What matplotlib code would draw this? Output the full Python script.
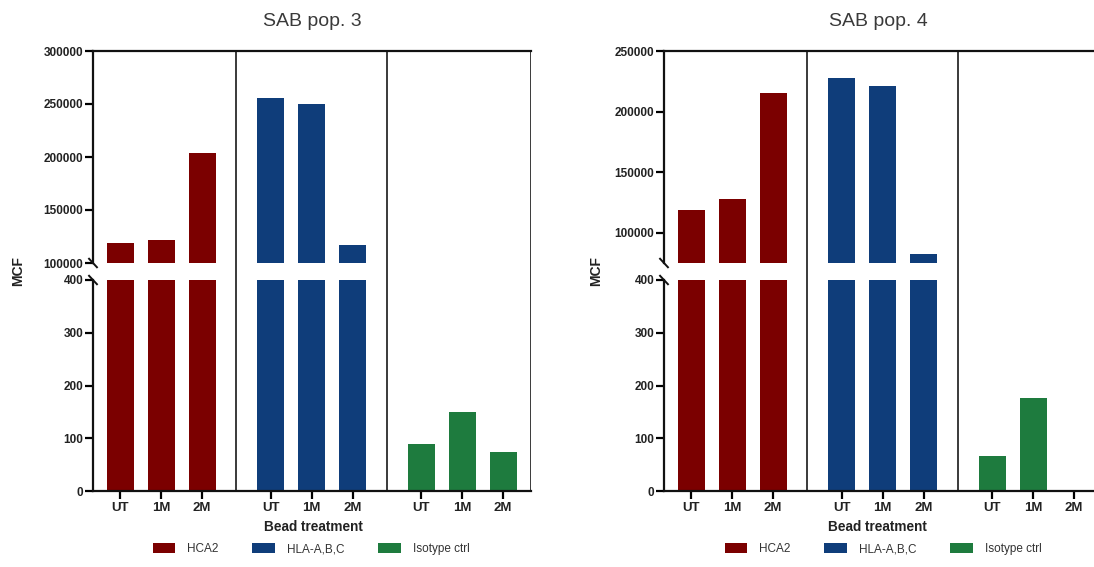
import matplotlib
matplotlib.use("Agg")
import matplotlib.pyplot as plt
from matplotlib.patches import Patch

plt.rcParams["font.family"] = ["Liberation Sans", "DejaVu Sans"]

# data
treatments = ["UT", "1M", "2M"]
antibodies = ["HCA2", "HLA-A,B,C", "Isotype ctrl"]
colors = ["#7B0000", "#0F3D7A", "#1E7B3E"]

pop3_hca2 = [119000, 122000, 204000]
pop3_hla = [255500, 250000, 117000]
pop3_iso = [90, 149, 73]

pop4_hca2 = [119000, 128000, 215500]
pop4_hla = [227500, 221000, 82500]
pop4_iso = [67, 176, 0]

panels = [
    {"title": "SAB pop. 3", "values": [pop3_hca2, pop3_hla, pop3_iso],
     "upper": (100000, 300000), "upper_ticks": [100000, 150000, 200000, 250000, 300000]},
    {"title": "SAB pop. 4", "values": [pop4_hca2, pop4_hla, pop4_iso],
     "upper": (75000, 250000), "upper_ticks": [100000, 150000, 200000, 250000]},
]

W, H = 1094, 567
fig = plt.figure(figsize=(W / 100, H / 100), dpi=100)

group_step = 3.67
bar_w = 0.66
xlim = (-0.66, 10.02)
dividers = [2.835, 6.5]
dark = "#222222"


def fx(px):
    return px / W


def fy(py):
    return 1 - py / H


x_left = [93, 664]
ax_width = 438
label_x = [18, 596]
title_x = [312, 878]
xlabel_x = [313, 877]
legend_x = [311, 883]

for k, p in enumerate(panels):
    x0 = fx(x_left[k])
    w = fx(ax_width)
    top_y, brk_hi, brk_lo, bot_y = 51, 263, 280, 491

    ax_up = fig.add_axes([x0, fy(brk_hi), w, fy(top_y) - fy(brk_hi)])
    ax_lo = fig.add_axes([x0, fy(bot_y), w, fy(brk_lo) - fy(bot_y)])
    ax_bg = fig.add_axes([x0, fy(bot_y), w, fy(top_y) - fy(bot_y)], zorder=-1)
    ax_bg.set_xlim(xlim)
    ax_bg.axis("off")
    for d in dividers + [xlim[1]]:
        ax_bg.axvline(d, color="#3a3a3a", lw=1.4)

    xs_all = []
    for g, vals in enumerate(p["values"]):
        xs = [g * group_step + i for i in range(len(treatments))]
        xs_all += xs
        for ax in (ax_up, ax_lo):
            ax.bar(xs, vals, width=bar_w, color=colors[g], bottom=0)

    ax_up.set_ylim(p["upper"])
    ax_lo.set_ylim(0, 400)
    for ax in (ax_up, ax_lo):
        ax.set_xlim(xlim)
        ax.patch.set_alpha(0)
        for s in ax.spines.values():
            s.set_linewidth(1.6)
            s.set_color("#111111")
        ax.spines["right"].set_visible(False)
        ax.tick_params(axis="y", length=6, width=1.6, pad=1)

    ax_up.spines["bottom"].set_visible(False)
    ax_up.set_xticks([])
    ax_up.set_yticks(p["upper_ticks"])
    ax_up.set_yticklabels([str(v) for v in p["upper_ticks"]], fontweight="bold", fontsize=8.5, color=dark)

    ax_lo.spines["top"].set_visible(False)
    ax_lo.set_yticks([0, 100, 200, 300, 400])
    ax_lo.set_yticklabels(["0", "100", "200", "300", "400"], fontweight="bold", fontsize=8.5, color=dark)
    ax_lo.set_xticks(xs_all)
    ax_lo.set_xticklabels(treatments * 3, fontweight="bold", fontsize=9.5, color=dark)
    ax_lo.tick_params(axis="x", length=6, width=1.6, pad=2)

    # break marks on the y axis
    dx, dy = 0.009, 0.02
    ax_up.plot([-dx, dx], [dy, -dy], transform=ax_up.transAxes, color="#111111", lw=1.4, clip_on=False)
    ax_lo.plot([-dx, dx], [1 + dy, 1 - dy], transform=ax_lo.transAxes, color="#111111", lw=1.4, clip_on=False)

    fig.text(fx(title_x[k]), fy(21), p["title"], ha="center", va="center", fontsize=14, color="#3a3a3a")
    fig.text(fx(xlabel_x[k]), fy(527), "Bead treatment", ha="center", va="center",
             fontsize=9.8, fontweight="bold", color=dark)
    fig.text(fx(label_x[k]), fy(271), "MCF", ha="center", va="center", rotation=90,
             fontsize=10, fontweight="bold", color=dark)

    handles = [Patch(facecolor=c, edgecolor="none", label=a) for c, a in zip(colors, antibodies)]
    fig.legend(handles=handles, loc="center", bbox_to_anchor=(fx(legend_x[k]), fy(549)), ncol=3,
               frameon=False, fontsize=8.5, handlelength=1.9, handleheight=0.9, columnspacing=2.9,
               handletextpad=1.0, labelcolor="#333333")

fig.savefig("out.png", dpi=100)
